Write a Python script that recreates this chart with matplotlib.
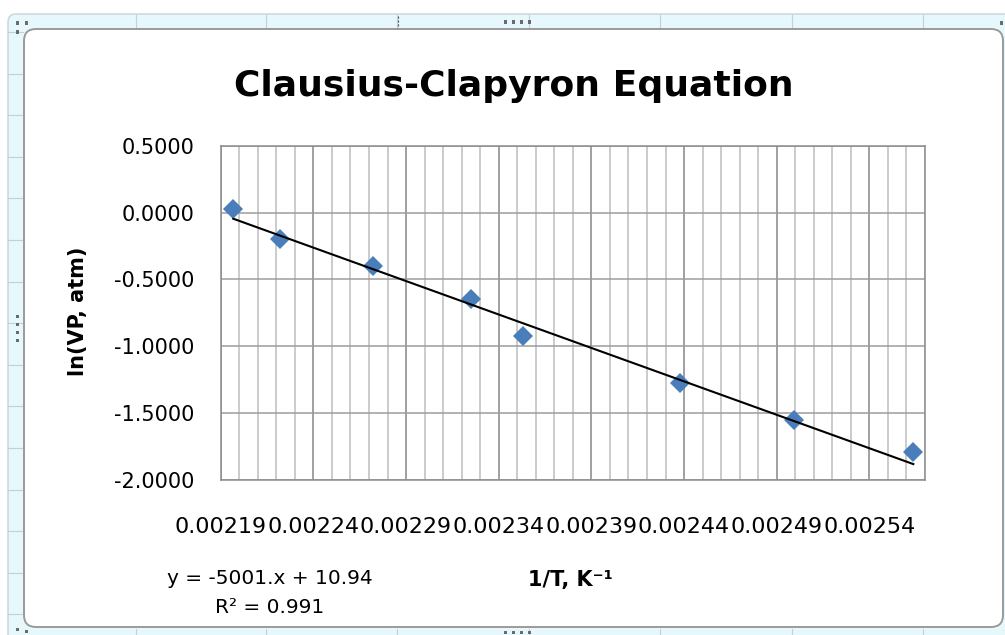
import numpy as np
import matplotlib
matplotlib.use("Agg")
import matplotlib.pyplot as plt
from matplotlib.patches import FancyBboxPatch, Rectangle
from matplotlib.lines import Line2D

# 1/T (K^-1) and ln(VP, atm) for each measurement
inv_T = [0.0021968, 0.0022220, 0.0022721, 0.0023252, 0.0023529,
         0.0024380, 0.0024992, 0.0025637]
ln_vp = [0.025, -0.198, -0.401, -0.643, -0.923, -1.275, -1.553, -1.790]

# linear trendline
slope = -5001
intercept = 10.94
r2 = 0.991

x_ticks = [0.00219, 0.00224, 0.00229, 0.00234, 0.00239, 0.00244, 0.00249, 0.00254]
x_labels = ["%.5f" % v for v in x_ticks]
y_ticks = [0.5, 0.0, -0.5, -1.0, -1.5, -2.0]
y_labels = ["%.4f" % v for v in y_ticks]

W, H = 1005, 635


def fx(x):
	return x / W


def fy(y):
	return 1 - y / H


def frame(fig):
	# spreadsheet border around the chart object
	t = fig.dpi_scale_trans
	strip = FancyBboxPatch((0.08, -0.1), 10.1, (H - 14) / 100 + 0.1,
			boxstyle="round,pad=0,rounding_size=0.08",
			facecolor="#e6f8fb", edgecolor="#c6d4d8", lw=1.0,
			transform=t, zorder=-10)
	fig.add_artist(strip)

	# column / row lines seen in the strip
	for x in [136, 266, 397, 529, 660, 792, 923]:
		fig.add_artist(Line2D([fx(x), fx(x)], [fy(15), fy(28)], color="#c4cfda", lw=0.8, zorder=-9))
		fig.add_artist(Line2D([fx(x), fx(x)], [fy(629), fy(635)], color="#c4cfda", lw=0.8, zorder=-9))
	for y in np.arange(32, 630, 41.6):
		fig.add_artist(Line2D([fx(8), fx(23)], [fy(y), fy(y)], color="#c4cfda", lw=0.8, zorder=-9))

	inner = FancyBboxPatch((0.24, (H - 627) / 100), 9.79, (627 - 29) / 100,
			boxstyle="round,pad=0,rounding_size=0.12",
			facecolor="white", edgecolor="#9a9a9a", lw=1.4,
			transform=t, zorder=-8)
	fig.add_artist(inner)

	# small handles
	handles = [(17, 23), (26, 23), (17, 32), (1002, 23), (17, 629), (26, 631)]
	handles += [(505 + 8 * i, 22) for i in range(4)]
	handles += [(505 + 8 * i, 632) for i in range(4)]
	handles += [(17, 316 + 8 * i) for i in range(4)]
	for (x, y) in handles:
		fig.add_artist(Rectangle((x / 100 - 0.015, (H - y) / 100 - 0.015), 0.03, 0.03,
				facecolor="#6b6b6b", edgecolor="none", transform=t, zorder=-7))
	fig.add_artist(Line2D([fx(398), fx(398)], [fy(16), fy(28)], color="#555555",
			lw=0.8, ls=(0, (2, 1.5)), zorder=-7))

	return


fig = plt.figure(figsize=(W / 100, H / 100), dpi=100)
fig.patch.set_facecolor("white")
frame(fig)

ax = fig.add_axes([fx(220.7), fy(480), (925 - 220.7) / W, (480 - 145.7) / H])

# points and trendline
ax.plot(inv_T, ln_vp, ls="none", marker="D", ms=9.8, color="#4a7ebb",
		markeredgewidth=0, zorder=3)
xs = np.array([inv_T[0], inv_T[-1]])
ax.plot(xs, slope * xs + intercept, color="black", lw=1.5, zorder=4)

# axes
ax.set_xlim(0.00219, 0.00257)
ax.set_ylim(-2.0, 0.5)
ax.set_xticks(x_ticks)
ax.set_xticklabels(x_labels)
ax.set_xticks(np.arange(219, 258) * 1e-5, minor=True)
ax.set_yticks(y_ticks)
ax.set_yticklabels(y_labels)

ax.grid(which="minor", axis="x", color="#bdbdbd", lw=1.1)
ax.grid(which="major", axis="x", color="#868686", lw=1.1)
ax.grid(which="major", axis="y", color="#9c9c9c", lw=1.1)
ax.set_axisbelow(True)

ax.tick_params(which="both", length=0)
ax.tick_params(axis="x", pad=26.4, labelsize=16)
ax.tick_params(axis="y", pad=18.7, labelsize=15)
for s in ax.spines.values():
	s.set_color("#8c8c8c")
	s.set_linewidth(1.1)

# titles
fig.text(fx(514), fy(96), "Clausius-Clapyron Equation", ha="center", va="baseline",
		fontsize=26, fontweight="bold")
fig.text(fx(78), fy(311.5), "ln(VP, atm)", rotation=90, ha="center", va="center",
		fontsize=15, fontweight="bold")
fig.text(fx(570), fy(586), "1/T, K\u207b\u00b9", ha="center", va="baseline",
		fontsize=15, fontweight="bold")

# trendline equation
fig.text(fx(270), fy(584), "y = %d.x + %.2f" % (slope, intercept), ha="center",
		va="baseline", fontsize=14.5)
fig.text(fx(270), fy(613), "R\u00b2 = %.3f" % r2, ha="center", va="baseline",
		fontsize=14.5)

plt.savefig("out.png", dpi=100)
plt.close()
